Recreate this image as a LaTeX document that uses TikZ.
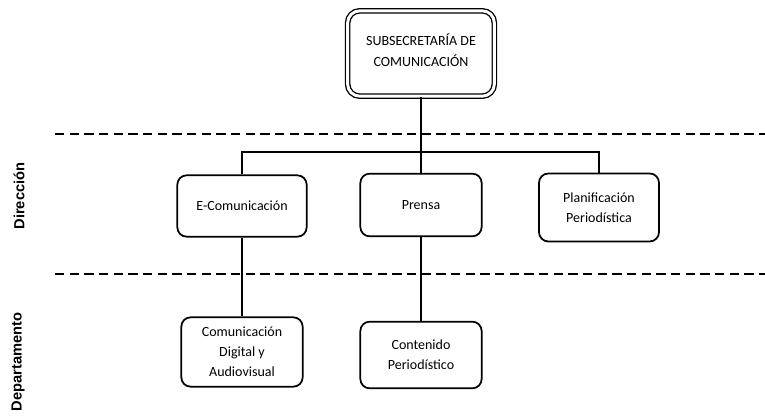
\documentclass[tikz,border=0pt]{standalone}
\usepackage{fontspec}
\setmainfont{Carlito}
\newfontfamily\labelfont{Liberation Sans}
\usepackage{tikz}

\tikzset{
  unitbox/.style={draw, line width=1.3pt, rounded corners=7pt, align=center, font=\fontsize{10.5}{15}\selectfont, inner sep=0.75pt},
  levelname/.style={rotate=90, font=\labelfont\bfseries\fontsize{11}{13}\selectfont, inner sep=0.75pt},
  levelline/.style={line width=1.4pt, dash pattern={on 7pt off 4pt}},
  link/.style={line width=1.4pt},
}

\begin{document}
\begin{tikzpicture}[x=0.75pt,y=0.75pt,yscale=-1,xscale=1]
\useasboundingbox (0,0) rectangle (765,416);

%Level separators
\coordinate (sepa) at (55,134);
\coordinate (sepb) at (765,134);
\coordinate (sepc) at (55,274);
\coordinate (sepd) at (765,274);
\draw [levelline] (sepa) -- (sepb) ;
\draw [levelline] (sepc) -- (sepd) ;

%Top unit
\draw (421,53.5) node [draw, line width=1pt, double, double distance=2.2pt, rounded corners=9pt, minimum width=110pt, minimum height=64pt, inner sep=0.75pt] (sub) {};
\draw (421,50.5) node [align=center, font=\fontsize{10.5}{16}\selectfont, inner sep=0.75pt] (subtxt) {SUBSECRETARÍA DE\\COMUNICACIÓN};

%Direcciones
\draw (242,206) node [unitbox, minimum width=97pt, minimum height=46pt] (ecom) {E-Comunicación};
\draw (421,205) node [unitbox, minimum width=91pt, minimum height=47pt] (prensa) {Prensa};
\draw (599,207.5) node [unitbox, minimum width=90pt, minimum height=51pt] (plan) {Planificación\\Periodística};

%Departamentos
\draw (242,352) node [unitbox, minimum width=91pt, minimum height=52pt] (digital) {Comunicación\\Digital y\\Audiovisual};
\draw (421,355) node [unitbox, minimum width=91pt, minimum height=50pt] (contenido) {Contenido\\Periodístico};

%Connectors
\coordinate (bus) at (421,152);
\draw [link] (sub.south) -- (bus) ;
\draw [link] (ecom.north) |- (bus) -| (plan.north) ;
\draw [link] (bus) -- (prensa.north) ;
\draw [link] (ecom.south) -- (digital.north) ;
\draw [link] (prensa.south) -- (contenido.north) ;

% Text Node
\draw (19,196) node [levelname] (dir) {Dirección};
% Text Node
\draw (18,362) node [levelname] (dep) {Departamento};

\end{tikzpicture}
\end{document}
